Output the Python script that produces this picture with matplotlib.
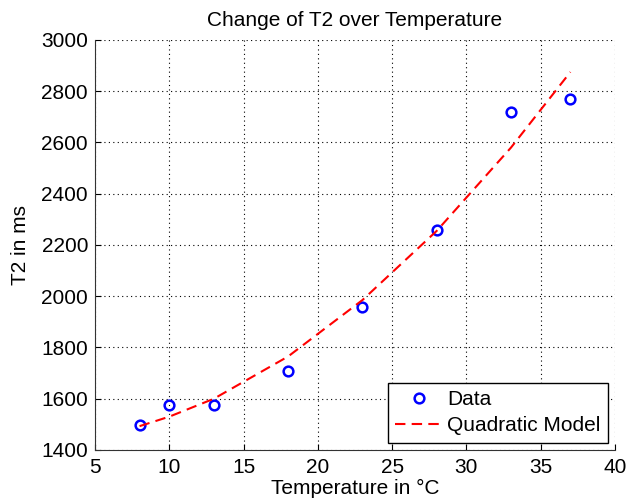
import matplotlib.pyplot as plt

temperature = [8, 10, 13, 18, 23, 28, 33, 37]
t2_data = [1497, 1577, 1577, 1707, 1957, 2257, 2720, 2768]
# quadratic model, evaluated at the data temperatures
t2_model = [1493, 1530, 1600, 1765, 1985, 2255, 2580, 2875]

plt.rcParams["font.family"] = ["Liberation Sans", "DejaVu Sans"]
plt.rcParams["font.size"] = 15

fig = plt.figure(figsize=(6.27, 5.03), dpi=100)
ax = fig.add_axes([0.1515, 0.1054, 0.8293, 0.8151])

ax.plot(temperature, t2_data, "o", color="blue", mfc="none", mew=1.8,
        ms=7, label="Data")
ax.plot(temperature, t2_model, "--", color="red", lw=1.5, dashes=(5, 3),
        label="Quadratic Model")

ax.set_xlim(5, 40)
ax.set_ylim(1400, 3000)
ax.set_xticks(range(5, 41, 5))
ax.set_yticks(range(1400, 3001, 200))
ax.grid(True, color="black", ls=(0, (1, 3)), lw=0.8)
ax.spines["top"].set_visible(False)
ax.spines["right"].set_visible(False)
for s in ("left", "bottom"):
    ax.spines[s].set_color("#333333")
ax.tick_params(direction="in", length=4, labelsize=15)
ax.tick_params(axis="y", pad=5)
ax.tick_params(axis="x", pad=6)

ax.set_title("Change of T2 over Temperature", fontsize=15, pad=10)
ax.set_xlabel("Temperature in °C", fontsize=15, labelpad=1)
ax.set_ylabel("T2 in ms", fontsize=15, labelpad=8)

leg = ax.legend(loc="lower right", fancybox=False, edgecolor="black",
                framealpha=1, fontsize=15, handlelength=2.3,
                handletextpad=0.2, borderaxespad=0.35, borderpad=0.35,
                labelspacing=0.35)
leg.get_frame().set_linewidth(1.0)

fig.savefig("out.png", dpi=100)
